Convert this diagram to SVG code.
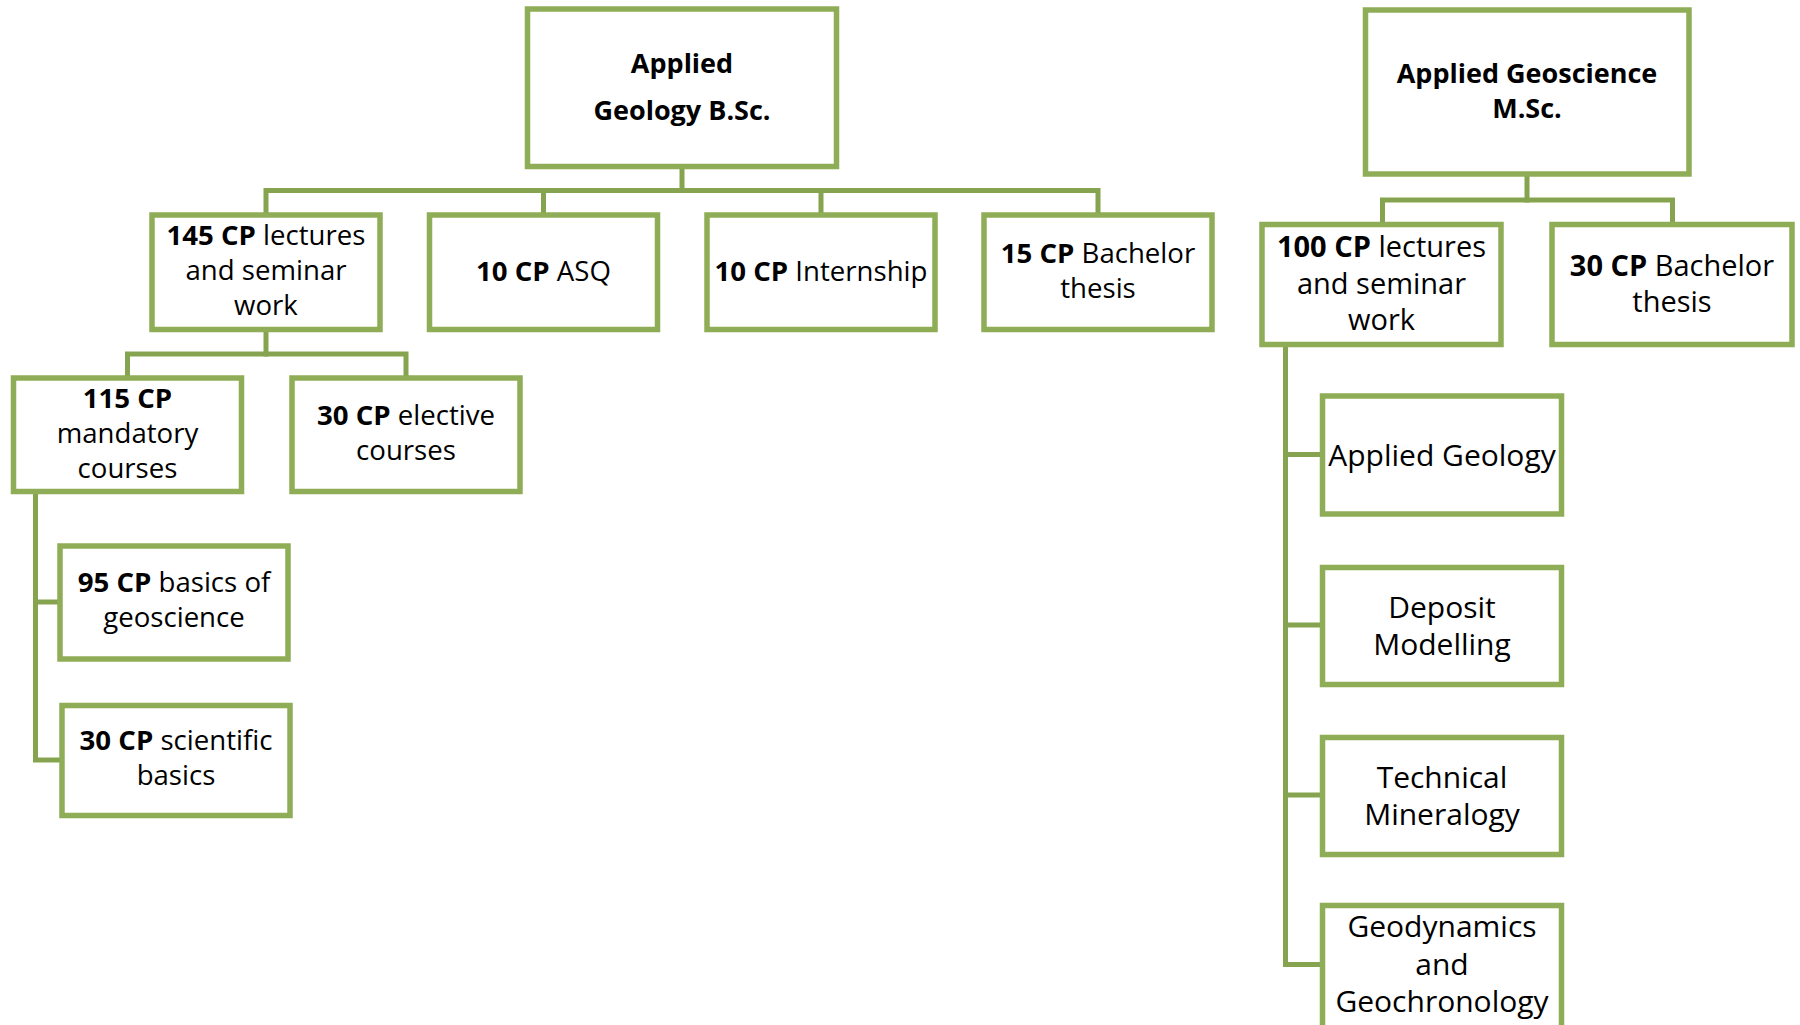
<svg xmlns="http://www.w3.org/2000/svg" width="1800" height="1025" viewBox="0 0 1800 1025">
<style>
  .box { fill: #ffffff; stroke: #8FAD56; stroke-width: 5.5; }
  .conn { fill: none; stroke: #86A34F; stroke-width: 5; stroke-linejoin: miter; stroke-linecap: square; }
  text { font-family: "Open Sans", "Liberation Sans", sans-serif; fill: #000; text-anchor: middle; }
  .t27 { font-size: 27.6px; }
  .r27 { font-size: 27px; }
  .t29 { font-size: 29px; }
  .t30 { font-size: 30px; }
  .b { font-weight: bold; }
</style>
<rect x="0" y="0" width="1800" height="1025" fill="#ffffff"/>
<g id="connectors">
  <path class="conn" d="M682,166.5 V190.5"/>
  <path class="conn" d="M266,215 V190.5 H1098 V215"/>
  <path class="conn" d="M543.5,190.5 V215"/>
  <path class="conn" d="M821,190.5 V215"/>
  <path class="conn" d="M266,329.5 V354"/>
  <path class="conn" d="M127.5,378 V354 H406 V378"/>
  <path class="conn" d="M35.5,491.5 V760 H62"/>
  <path class="conn" d="M35.5,602 H60"/>
  <path class="conn" d="M1527,174 V200"/>
  <path class="conn" d="M1382.5,224.5 V200 H1672.5 V224.5"/>
  <path class="conn" d="M1285.5,344.5 V964.5 H1322.5"/>
  <path class="conn" d="M1285.5,454.5 H1322.5"/>
  <path class="conn" d="M1285.5,625 H1322.5"/>
  <path class="conn" d="M1285.5,795 H1322.5"/>
</g>
<g id="node-bsc">
  <rect class="box" x="527.5" y="9" width="309" height="157.5"/>
  <text class="r27 b" x="682" y="73">Applied</text>
  <text class="r27 b" x="682" y="120">Geology B.Sc.</text>
</g>
<g id="node-145">
  <rect class="box" x="152" y="215" width="228" height="114.5"/>
  <text class="t27" x="266" y="245"><tspan class="b">145 CP</tspan> lectures</text>
  <text class="t27" x="266" y="280">and seminar</text>
  <text class="t27" x="266" y="315">work</text>
</g>
<g id="node-asq">
  <rect class="box" x="429.5" y="215" width="228" height="114.5"/>
  <text class="t27" x="543.5" y="281"><tspan class="b">10 CP</tspan> ASQ</text>
</g>
<g id="node-internship">
  <rect class="box" x="707" y="215" width="228" height="114.5"/>
  <text class="t27" x="821" y="281"><tspan class="b">10 CP</tspan> Internship</text>
</g>
<g id="node-bthesis15">
  <rect class="box" x="984" y="215" width="228" height="114.5"/>
  <text class="t27" x="1098" y="263"><tspan class="b">15 CP</tspan> Bachelor</text>
  <text class="t27" x="1098" y="298">thesis</text>
</g>
<g id="node-115">
  <rect class="box" x="13.5" y="378" width="228" height="113.5"/>
  <text class="t27 b" x="127.5" y="408">115 CP</text>
  <text class="t27" x="127.5" y="443">mandatory</text>
  <text class="t27" x="127.5" y="478">courses</text>
</g>
<g id="node-elective">
  <rect class="box" x="292" y="378" width="228" height="113.5"/>
  <text class="t27" x="406" y="425"><tspan class="b">30 CP</tspan> elective</text>
  <text class="t27" x="406" y="460">courses</text>
</g>
<g id="node-95">
  <rect class="box" x="60" y="546" width="228" height="113"/>
  <text class="t27" x="174" y="592"><tspan class="b">95 CP</tspan> basics of</text>
  <text class="t27" x="174" y="627">geoscience</text>
</g>
<g id="node-scientific">
  <rect class="box" x="62" y="705.5" width="228" height="110"/>
  <text class="t27" x="176" y="750"><tspan class="b">30 CP</tspan> scientific</text>
  <text class="t27" x="176" y="785">basics</text>
</g>
<g id="node-msc">
  <rect class="box" x="1365.5" y="10" width="323.5" height="164"/>
  <text class="r27 b" x="1527" y="83">Applied Geoscience</text>
  <text class="r27 b" x="1527" y="118">M.Sc.</text>
</g>
<g id="node-100">
  <rect class="box" x="1262" y="224.5" width="239" height="120"/>
  <text class="t29" x="1381.5" y="257"><tspan class="b">100 CP</tspan> lectures</text>
  <text class="t29" x="1381.5" y="293.5">and seminar</text>
  <text class="t29" x="1381.5" y="330">work</text>
</g>
<g id="node-mthesis30">
  <rect class="box" x="1552" y="224.5" width="240" height="120"/>
  <text class="t29" x="1672" y="276"><tspan class="b">30 CP</tspan> Bachelor</text>
  <text class="t29" x="1672" y="312">thesis</text>
</g>
<g id="node-applied-geology">
  <rect class="box" x="1322.5" y="396" width="239" height="118"/>
  <text class="t30" x="1442" y="466">Applied Geology</text>
</g>
<g id="node-deposit">
  <rect class="box" x="1322.5" y="567.5" width="239" height="117"/>
  <text class="t30" x="1442" y="618">Deposit</text>
  <text class="t30" x="1442" y="655">Modelling</text>
</g>
<g id="node-technical">
  <rect class="box" x="1322.5" y="737.5" width="239" height="117"/>
  <text class="t30" x="1442" y="788">Technical</text>
  <text class="t30" x="1442" y="825">Mineralogy</text>
</g>
<g id="node-geodynamics">
  <rect class="box" x="1322.5" y="905.5" width="239" height="140"/>
  <text class="t30" x="1442" y="937">Geodynamics</text>
  <text class="t30" x="1442" y="974.5">and</text>
  <text class="t30" x="1442" y="1012">Geochronology</text>
</g>
</svg>
